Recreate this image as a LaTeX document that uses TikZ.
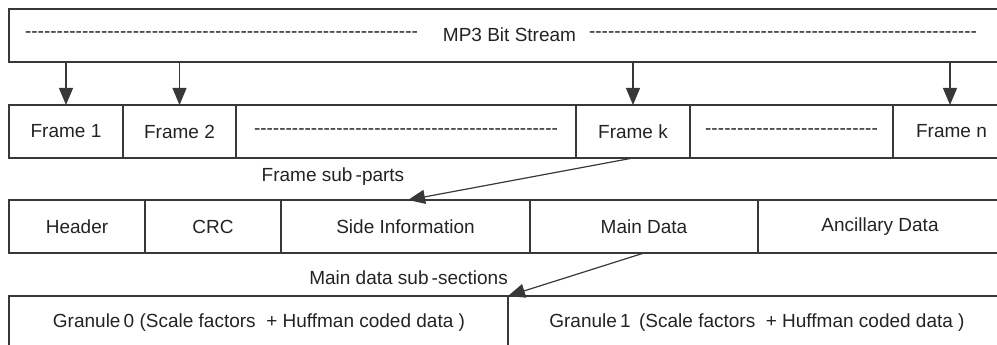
\documentclass[tikz,border=0pt]{standalone}
\usepackage{fontspec}
\setmainfont{Liberation Sans}
\usetikzlibrary{arrows.meta}
\definecolor{ink}{HTML}{232323}
\definecolor{rule}{HTML}{383838}
\newcommand{\dashfill}[1]{\hbox to #1{\xleaders\hbox{-}\hfill}}
\tikzset{
  cell/.style={draw=rule, line width=1.3pt, rectangle, inner sep=0pt, outer sep=0pt,
    minimum height=53pt, text=ink, font=\fontsize{19}{22}\selectfont},
  lbl/.style={inner sep=0pt, text=ink, font=\fontsize{19}{22}\selectfont},
  arr/.style={draw=rule, line width=1.2pt, -{Triangle[length=17pt,width=14pt]}},
}
\begin{document}
\begin{tikzpicture}[x=1pt,y=-1pt]
\path[use as bounding box] (0,0) rectangle (997,345);
\clip (0,0) rectangle (997,345);
% top row
\node[cell, minimum width=1001pt] (top) at (509.5,35.5) {};
\node[lbl] (tdl) at (221.5,35) {\dashfill{393pt}};
\node[lbl] (tt) at (509.5,35) {MP3 Bit Stream};
\node[lbl] (tdr) at (783,35) {\dashfill{388pt}};
% frames row
\node[cell, minimum width=114pt] (f1) at (66,131.5) {Frame 1};
\node[cell, minimum width=113pt] (f2) at (179.5,131.5) {Frame 2};
\node[cell, minimum width=340pt] (fd1) at (406,131.5) {\dashfill{304pt}};
\node[cell, minimum width=114pt] (fk) at (633,131.5) {Frame k};
\node[cell, minimum width=203pt] (fd2) at (791.5,131.5) {\dashfill{173pt}};
\node[cell, minimum width=117pt] (fn) at (951.5,131.5) {Frame n};
% sub-parts row
\node[cell, minimum width=136pt] (hd) at (77,226.5) {Header};
\node[cell, minimum width=136pt] (crc) at (213,226.5) {CRC};
\node[cell, minimum width=249pt] (si) at (405.5,226.5) {Side Information};
\node[cell, minimum width=228pt] (md) at (644,226.5) {Main Data};
\node[cell, minimum width=252pt] (ad) at (884,226.5) {};
\node[lbl] (adt) at (880,226.5) {Ancillary Data};
% granule row
\node[cell, minimum width=499pt, minimum height=60pt] (g0) at (258.5,326) {};
\node[cell, minimum width=502pt, minimum height=60pt] (g1) at (759,326) {};
\node[lbl] (g0t) at (259,322.5) {Granule\,0 (Scale factors \ + Huffman coded data )};
\node[lbl] (g1t) at (757,322.5) {Granule\,1 \,(Scale factors \ + Huffman coded data )};
% labels
\node[lbl] (fsp) at (333,177) {Frame sub\,-parts};
\node[lbl, anchor=east] (mds) at (508,278) {Main data sub\,-sections};
% arrows
\draw[arr] (top.south -| f1) -- (f1.north);
\draw[arr] (top.south -| f2) -- (f2.north);
\draw[arr] (top.south -| fk) -- (fk.north);
\draw[arr] (top.south -| fn.north) ++(-1.5,0) coordinate (an) -- (an |- fn.north);
\draw[arr] (fk.south) -- ([xshift=2.5pt]si.north);
\draw[arr] (md.south) -- (g1.north west);
\end{tikzpicture}
\end{document}
